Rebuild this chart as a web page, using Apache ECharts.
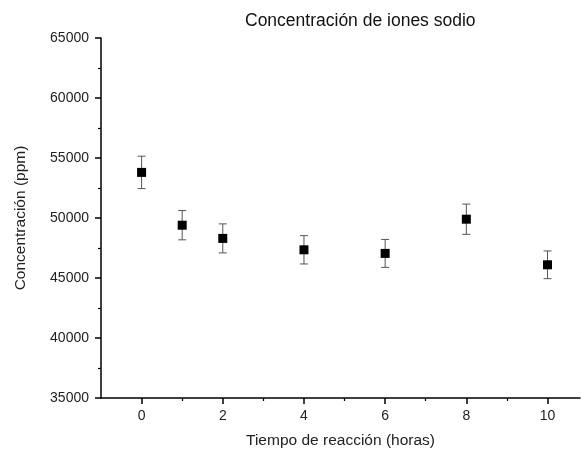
<!DOCTYPE html>
<html>
<head>
<meta charset="utf-8">
<script src="https://cdn.jsdelivr.net/npm/echarts@6/dist/echarts.min.js"></script>
<style>html,body{margin:0;padding:0;background:#fff}#c{width:581px;height:449px}</style>
</head>
<body>
<div id="c"></div>
<script>
var titleText = 'Concentración de iones sodio';
var xName = 'Tiempo de reacción (horas)';
var yName = 'Concentración (ppm)';
var hours = [0, 1, 2, 4, 6, 8, 10];
var conc = [53800, 49400, 48300, 47350, 47050, 49900, 46100];
var errs = [1350, 1220, 1210, 1180, 1165, 1260, 1155];
var xMajorTicks = [0, 2, 4, 6, 8, 10];
var xMinorTicks = [1, 3, 5, 7, 9];

var font = 'Liberation Sans, Arial, sans-serif';
var chart = echarts.init(document.getElementById('c'), null, {renderer: 'canvas'});
var errData = hours.map(function (h, i) { return [h, conc[i] - errs[i], conc[i] + errs[i]]; });
var ptData = hours.map(function (h, i) { return [h, conc[i]]; });

chart.setOption({
  animation: false,
  backgroundColor: '#fff',
  title: {text: titleText, left: 240, top: 7, textStyle: {fontFamily: font, fontSize: 17.5, fontWeight: 'normal', color: '#111'}},
  grid: {left: 101, right: 1, top: 38, bottom: 51, containLabel: false, outerBoundsMode: 'none'},
  xAxis: [{
    type: 'value', min: -1, max: 10.8,
    name: xName, nameLocation: 'middle', nameGap: 35,
    nameTextStyle: {fontFamily: font, fontSize: 15.5, color: '#222'},
    axisLine: {show: true, onZero: false, lineStyle: {color: '#000', width: 1.5}},
    axisTick: {show: true, customValues: xMajorTicks, length: 6, lineStyle: {color: '#000', width: 1.5}},
    axisLabel: {customValues: xMajorTicks, margin: 11, fontFamily: font, fontSize: 14, color: '#222'},
    splitLine: {show: false}
  }, {
    type: 'value', min: -1, max: 10.8, position: 'bottom',
    axisLine: {show: false, onZero: false},
    axisTick: {show: true, customValues: xMinorTicks, length: 3, lineStyle: {color: '#000', width: 1.2}},
    axisLabel: {show: false},
    splitLine: {show: false}
  }],
  yAxis: {
    type: 'value', min: 35000, max: 65000, interval: 5000,
    name: yName, nameLocation: 'middle', nameGap: 72,
    nameTextStyle: {fontFamily: font, fontSize: 15.5, color: '#222'},
    axisLine: {show: true, onZero: false, lineStyle: {color: '#000', width: 1.5}},
    axisTick: {show: true, length: 6, lineStyle: {color: '#000', width: 1.5}},
    minorTick: {show: true, splitNumber: 2, length: 3, lineStyle: {color: '#000', width: 1.2}},
    axisLabel: {margin: 12, fontFamily: font, fontSize: 14, color: '#222', formatter: function (v) { return String(v); }},
    splitLine: {show: false}
  },
  series: [{
    type: 'custom',
    data: errData,
    z: 2,
    renderItem: function (params, api) {
      var x = api.value(0);
      var lo = api.coord([x, api.value(1)]);
      var hi = api.coord([x, api.value(2)]);
      var w = 4;
      var st = {stroke: '#555', lineWidth: 1};
      return {type: 'group', children: [
        {type: 'line', shape: {x1: lo[0], y1: lo[1], x2: hi[0], y2: hi[1]}, style: st},
        {type: 'line', shape: {x1: lo[0] - w, y1: lo[1], x2: lo[0] + w, y2: lo[1]}, style: st},
        {type: 'line', shape: {x1: hi[0] - w, y1: hi[1], x2: hi[0] + w, y2: hi[1]}, style: st}
      ]};
    }
  }, {
    type: 'scatter',
    data: ptData,
    symbol: 'rect',
    symbolSize: 9,
    z: 3,
    itemStyle: {color: '#000', opacity: 1}
  }]
});
</script>
</body>
</html>
